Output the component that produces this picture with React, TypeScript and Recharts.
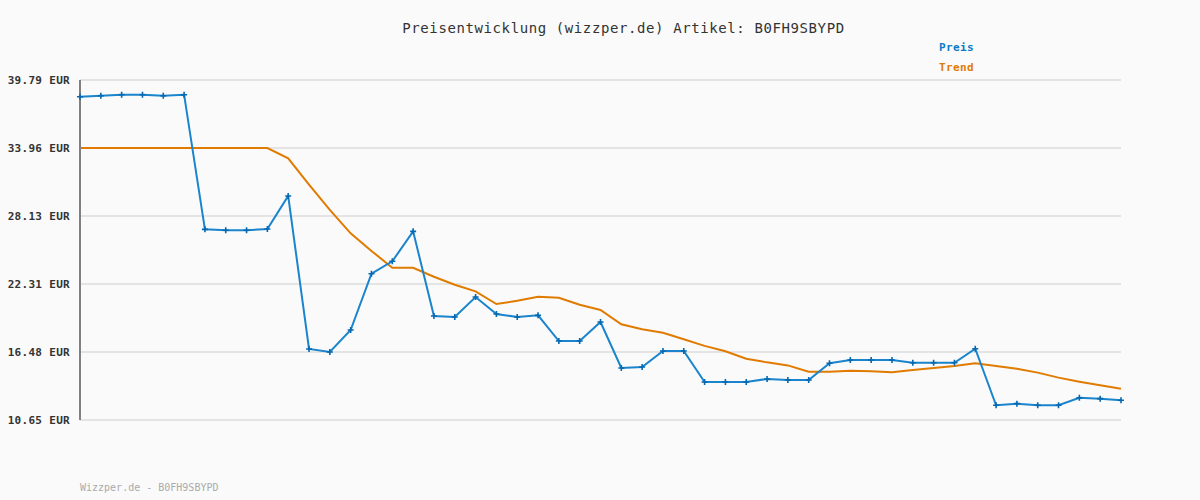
import React from "react";
import { LineChart, Line, XAxis, YAxis, CartesianGrid } from "recharts";

const priceValues = [
  38.36, 38.44, 38.53, 38.53, 38.44, 38.53, 26.99, 26.91, 26.91, 27.02,
  29.85, 16.74, 16.48, 18.36, 23.19, 24.25, 26.82, 19.56, 19.48, 21.19,
  19.74, 19.48, 19.62, 17.42, 17.42, 19.05, 15.11, 15.19, 16.56, 16.56,
  13.91, 13.91, 13.91, 14.17, 14.08, 14.08, 15.51, 15.79, 15.79, 15.79,
  15.56, 15.56, 15.56, 16.76, 11.91, 12.05, 11.91, 11.91, 12.56, 12.48, 12.34,
];

const trendValues = [
  33.96, 33.96, 33.96, 33.96, 33.96, 33.96, 33.96, 33.96, 33.96, 33.96,
  33.08, 30.83, 28.66, 26.65, 25.14, 23.7, 23.7, 22.93, 22.24, 21.68,
  20.59, 20.87, 21.22, 21.13, 20.53, 20.08, 18.85, 18.42, 18.13, 17.57,
  17.0, 16.54, 15.9, 15.59, 15.33, 14.79, 14.79, 14.87, 14.82, 14.74,
  14.94, 15.11, 15.28, 15.51, 15.28, 15.05, 14.71, 14.28, 13.93, 13.62, 13.33,
];

const yTicks = [10.65, 16.48, 22.31, 28.13, 33.96, 39.79];

const titleText = "Preisentwicklung (wizzper.de) Artikel: B0FH9SBYPD";
const footerText = "Wizzper.de - B0FH9SBYPD";
const legendItems = [
  { name: "Preis", color: "#0a7ac8" },
  { name: "Trend", color: "#e07b00" },
];

const data = priceValues.map((p, i) => ({ i, preis: p, trend: trendValues[i] }));

const MONO = "'DejaVu Sans Mono', monospace";

const CrossDot = (props: any) => {
  const { cx, cy } = props;
  if (cx == null || cy == null) return null;
  return (
    <path
      d={`M${cx - 3},${cy}L${cx + 3},${cy}M${cx},${cy - 3}L${cx},${cy + 3}`}
      stroke="#0668b0"
      strokeWidth={1.6}
      fill="none"
    />
  );
};

const YTick = (props: any) => {
  const { x, y, payload } = props;
  return (
    <text
      x={x - 2}
      y={y + 4}
      textAnchor="end"
      fontFamily={MONO}
      fontWeight="bold"
      fontSize={11}
      letterSpacing={0.3}
      fill="#333"
    >
      {payload.value.toFixed(2)} EUR
    </text>
  );
};

export default function App() {
  return (
    <div
      style={{
        position: "absolute",
        left: 0,
        top: 0,
        width: 1200,
        height: 500,
        background: "#fafafa",
      }}
    >
      <div
        style={{
          position: "absolute",
          left: 0,
          width: 1200,
          top: 20,
          textAlign: "center",
          fontFamily: MONO,
          fontSize: 14,
          letterSpacing: 0.6,
          color: "#333",
          paddingLeft: 47,
          boxSizing: "border-box",
        }}
      >
        {titleText}
      </div>
      {legendItems.map((it, k) => (
        <div
          key={it.name}
          style={{
            position: "absolute",
            left: 939,
            top: 41 + k * 20,
            fontFamily: MONO,
            fontSize: 11,
            fontWeight: "bold",
            letterSpacing: 0.4,
            color: it.color,
          }}
        >
          {it.name}
        </div>
      ))}
      <div
        style={{
          position: "absolute",
          left: 80,
          top: 482,
          fontFamily: MONO,
          fontSize: 10,
          color: "#aaa",
        }}
      >
        {footerText}
      </div>
      <div style={{ position: "absolute", left: 0, top: 0 }}>
        <LineChart
          width={1200}
          height={500}
          data={data}
          margin={{ top: 80, right: 79, bottom: 80, left: 0 }}
        >
          <CartesianGrid
            horizontal={true}
            vertical={false}
            stroke="#e4e4e4"
            strokeWidth={2}
          />
          <XAxis
            dataKey="i"
            type="number"
            domain={[0, 50]}
            tick={false}
            tickLine={false}
            height={0}
            axisLine={{ stroke: "#808080", strokeWidth: 2 }}
          />
          <YAxis
            type="number"
            domain={[10.65, 39.79]}
            ticks={yTicks}
            width={80}
            tickLine={false}
            tick={<YTick />}
            axisLine={{ stroke: "#808080", strokeWidth: 2 }}
            interval={0}
          />
          <Line
            type="linear"
            dataKey="trend"
            stroke="#e07b00"
            strokeWidth={2}
            dot={false}
            activeDot={false}
            isAnimationActive={false}
          />
          <Line
            type="linear"
            dataKey="preis"
            stroke="#1a84cc"
            strokeWidth={2}
            dot={<CrossDot />}
            activeDot={false}
            isAnimationActive={false}
          />
        </LineChart>
      </div>
    </div>
  );
}
